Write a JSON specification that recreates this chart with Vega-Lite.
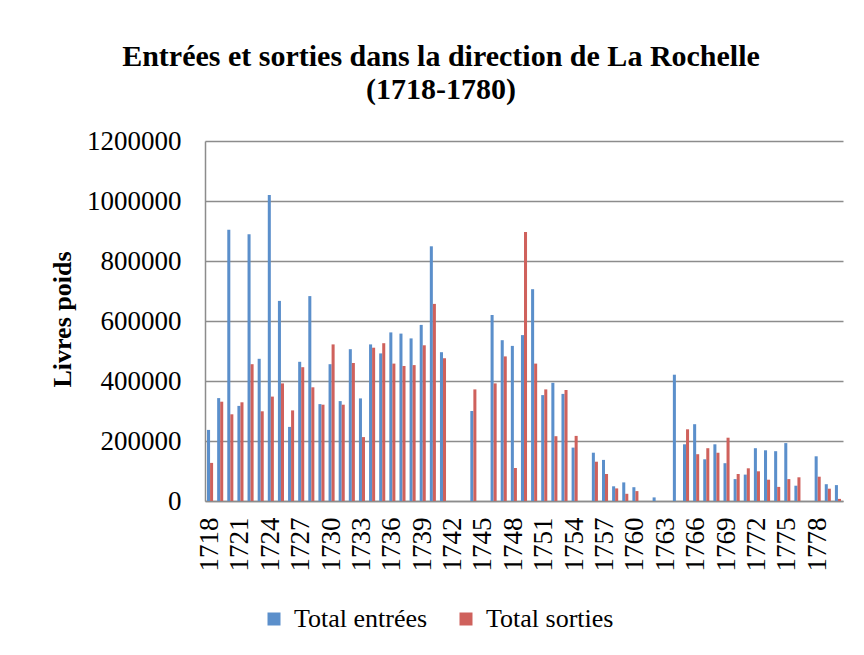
{
  "$schema": "https://vega.github.io/schema/vega-lite/v6.json",
  "width": 638,
  "height": 360,
  "autosize": {"type": "none"},
  "padding": {"left": 205, "top": 141, "right": 21, "bottom": 154},
  "background": "white",
  "title": {
    "text": ["Entrées et sorties dans la direction de La Rochelle", "(1718-1780)"],
    "font": "Liberation Serif",
    "fontSize": 30,
    "fontWeight": "bold",
    "color": "black",
    "anchor": "middle",
    "dx": -83,
    "offset": 22,
    "lineHeight": 33
  },
  "data": {
    "values": [
      {"annee": 1718, "serie": "Total entrées", "valeur": 237000},
      {"annee": 1718, "serie": "Total sorties", "valeur": 127000},
      {"annee": 1719, "serie": "Total entrées", "valeur": 343000},
      {"annee": 1719, "serie": "Total sorties", "valeur": 331000},
      {"annee": 1720, "serie": "Total entrées", "valeur": 904000},
      {"annee": 1720, "serie": "Total sorties", "valeur": 289000},
      {"annee": 1721, "serie": "Total entrées", "valeur": 317000},
      {"annee": 1721, "serie": "Total sorties", "valeur": 329000},
      {"annee": 1722, "serie": "Total entrées", "valeur": 889000},
      {"annee": 1722, "serie": "Total sorties", "valeur": 456000},
      {"annee": 1723, "serie": "Total entrées", "valeur": 474000},
      {"annee": 1723, "serie": "Total sorties", "valeur": 299000},
      {"annee": 1724, "serie": "Total entrées", "valeur": 1020000},
      {"annee": 1724, "serie": "Total sorties", "valeur": 348000},
      {"annee": 1725, "serie": "Total entrées", "valeur": 667000},
      {"annee": 1725, "serie": "Total sorties", "valeur": 392000},
      {"annee": 1726, "serie": "Total entrées", "valeur": 247000},
      {"annee": 1726, "serie": "Total sorties", "valeur": 302000},
      {"annee": 1727, "serie": "Total entrées", "valeur": 464000},
      {"annee": 1727, "serie": "Total sorties", "valeur": 446000},
      {"annee": 1728, "serie": "Total entrées", "valeur": 683000},
      {"annee": 1728, "serie": "Total sorties", "valeur": 379000},
      {"annee": 1729, "serie": "Total entrées", "valeur": 323000},
      {"annee": 1729, "serie": "Total sorties", "valeur": 321000},
      {"annee": 1730, "serie": "Total entrées", "valeur": 456000},
      {"annee": 1730, "serie": "Total sorties", "valeur": 522000},
      {"annee": 1731, "serie": "Total entrées", "valeur": 333000},
      {"annee": 1731, "serie": "Total sorties", "valeur": 321000},
      {"annee": 1732, "serie": "Total entrées", "valeur": 506000},
      {"annee": 1732, "serie": "Total sorties", "valeur": 460000},
      {"annee": 1733, "serie": "Total entrées", "valeur": 342000},
      {"annee": 1733, "serie": "Total sorties", "valeur": 213000},
      {"annee": 1734, "serie": "Total entrées", "valeur": 522000},
      {"annee": 1734, "serie": "Total sorties", "valeur": 511000},
      {"annee": 1735, "serie": "Total entrées", "valeur": 492000},
      {"annee": 1735, "serie": "Total sorties", "valeur": 526000},
      {"annee": 1736, "serie": "Total entrées", "valeur": 562000},
      {"annee": 1736, "serie": "Total sorties", "valeur": 458000},
      {"annee": 1737, "serie": "Total entrées", "valeur": 558000},
      {"annee": 1737, "serie": "Total sorties", "valeur": 450000},
      {"annee": 1738, "serie": "Total entrées", "valeur": 542000},
      {"annee": 1738, "serie": "Total sorties", "valeur": 453000},
      {"annee": 1739, "serie": "Total entrées", "valeur": 587000},
      {"annee": 1739, "serie": "Total sorties", "valeur": 519000},
      {"annee": 1740, "serie": "Total entrées", "valeur": 849000},
      {"annee": 1740, "serie": "Total sorties", "valeur": 657000},
      {"annee": 1741, "serie": "Total entrées", "valeur": 496000},
      {"annee": 1741, "serie": "Total sorties", "valeur": 476000},
      {"annee": 1744, "serie": "Total entrées", "valeur": 300000},
      {"annee": 1744, "serie": "Total sorties", "valeur": 372000},
      {"annee": 1746, "serie": "Total entrées", "valeur": 620000},
      {"annee": 1746, "serie": "Total sorties", "valeur": 392000},
      {"annee": 1747, "serie": "Total entrées", "valeur": 536000},
      {"annee": 1747, "serie": "Total sorties", "valeur": 482000},
      {"annee": 1748, "serie": "Total entrées", "valeur": 517000},
      {"annee": 1748, "serie": "Total sorties", "valeur": 110000},
      {"annee": 1749, "serie": "Total entrées", "valeur": 553000},
      {"annee": 1749, "serie": "Total sorties", "valeur": 897000},
      {"annee": 1750, "serie": "Total entrées", "valeur": 706000},
      {"annee": 1750, "serie": "Total sorties", "valeur": 458000},
      {"annee": 1751, "serie": "Total entrées", "valeur": 353000},
      {"annee": 1751, "serie": "Total sorties", "valeur": 372000},
      {"annee": 1752, "serie": "Total entrées", "valeur": 394000},
      {"annee": 1752, "serie": "Total sorties", "valeur": 216000},
      {"annee": 1753, "serie": "Total entrées", "valeur": 357000},
      {"annee": 1753, "serie": "Total sorties", "valeur": 370000},
      {"annee": 1754, "serie": "Total entrées", "valeur": 178000},
      {"annee": 1754, "serie": "Total sorties", "valeur": 217000},
      {"annee": 1756, "serie": "Total entrées", "valeur": 161000},
      {"annee": 1756, "serie": "Total sorties", "valeur": 131000},
      {"annee": 1757, "serie": "Total entrées", "valeur": 137000},
      {"annee": 1757, "serie": "Total sorties", "valeur": 90000},
      {"annee": 1758, "serie": "Total entrées", "valeur": 49000},
      {"annee": 1758, "serie": "Total sorties", "valeur": 42000},
      {"annee": 1759, "serie": "Total entrées", "valeur": 62000},
      {"annee": 1759, "serie": "Total sorties", "valeur": 24000},
      {"annee": 1760, "serie": "Total entrées", "valeur": 46000},
      {"annee": 1760, "serie": "Total sorties", "valeur": 33000},
      {"annee": 1762, "serie": "Total entrées", "valeur": 12000},
      {"annee": 1764, "serie": "Total entrées", "valeur": 421000},
      {"annee": 1765, "serie": "Total entrées", "valeur": 189000},
      {"annee": 1765, "serie": "Total sorties", "valeur": 239000},
      {"annee": 1766, "serie": "Total entrées", "valeur": 256000},
      {"annee": 1766, "serie": "Total sorties", "valeur": 156000},
      {"annee": 1767, "serie": "Total entrées", "valeur": 139000},
      {"annee": 1767, "serie": "Total sorties", "valeur": 176000},
      {"annee": 1768, "serie": "Total entrées", "valeur": 189000},
      {"annee": 1768, "serie": "Total sorties", "valeur": 161000},
      {"annee": 1769, "serie": "Total entrées", "valeur": 126000},
      {"annee": 1769, "serie": "Total sorties", "valeur": 211000},
      {"annee": 1770, "serie": "Total entrées", "valeur": 73000},
      {"annee": 1770, "serie": "Total sorties", "valeur": 90000},
      {"annee": 1771, "serie": "Total entrées", "valeur": 88000},
      {"annee": 1771, "serie": "Total sorties", "valeur": 109000},
      {"annee": 1772, "serie": "Total entrées", "valeur": 176000},
      {"annee": 1772, "serie": "Total sorties", "valeur": 99000},
      {"annee": 1773, "serie": "Total entrées", "valeur": 169000},
      {"annee": 1773, "serie": "Total sorties", "valeur": 71000},
      {"annee": 1774, "serie": "Total entrées", "valeur": 166000},
      {"annee": 1774, "serie": "Total sorties", "valeur": 47000},
      {"annee": 1775, "serie": "Total entrées", "valeur": 193000},
      {"annee": 1775, "serie": "Total sorties", "valeur": 73000},
      {"annee": 1776, "serie": "Total entrées", "valeur": 51000},
      {"annee": 1776, "serie": "Total sorties", "valeur": 79000},
      {"annee": 1778, "serie": "Total entrées", "valeur": 149000},
      {"annee": 1778, "serie": "Total sorties", "valeur": 81000},
      {"annee": 1779, "serie": "Total entrées", "valeur": 56000},
      {"annee": 1779, "serie": "Total sorties", "valeur": 41000},
      {"annee": 1780, "serie": "Total entrées", "valeur": 53000},
      {"annee": 1780, "serie": "Total sorties", "valeur": 7000}
    ]
  },
  "mark": {"type": "bar"},
  "encoding": {
    "x": {
      "field": "annee",
      "type": "ordinal",
      "title": null,
      "scale": {
        "domain": [1718,1719,1720,1721,1722,1723,1724,1725,1726,1727,1728,1729,1730,1731,1732,1733,1734,1735,1736,1737,1738,1739,1740,1741,1742,1743,1744,1745,1746,1747,1748,1749,1750,1751,1752,1753,1754,1755,1756,1757,1758,1759,1760,1761,1762,1763,1764,1765,1766,1767,1768,1769,1770,1771,1772,1773,1774,1775,1776,1777,1778,1779,1780],
        "paddingInner": 0.4,
        "paddingOuter": 0.2
      },
      "axis": {
        "values": [1718,1721,1724,1727,1730,1733,1736,1739,1742,1745,1748,1751,1754,1757,1760,1763,1766,1769,1772,1775,1778],
        "labelAngle": -90,
        "labelFont": "Liberation Serif",
        "labelFontSize": 27,
        "labelColor": "black",
        "labelPadding": 16,
        "ticks": false,
        "grid": false,
        "domainColor": "#8c8c8c",
        "domainWidth": 1.5
      }
    },
    "xOffset": {"field": "serie", "type": "nominal", "sort": ["Total entrées", "Total sorties"]},
    "y": {
      "field": "valeur",
      "type": "quantitative",
      "title": "Livres poids",
      "scale": {"domain": [0, 1200000], "nice": false},
      "axis": {
        "values": [0, 200000, 400000, 600000, 800000, 1000000, 1200000],
        "format": "d",
        "labelFont": "Liberation Serif",
        "labelFontSize": 27,
        "labelColor": "black",
        "labelPadding": 24,
        "ticks": false,
        "grid": true,
        "gridColor": "#8c8c8c",
        "gridWidth": 1.5,
        "domainColor": "#8c8c8c",
        "domainWidth": 1.5,
        "titleFont": "Liberation Serif",
        "titleFontSize": 26,
        "titleFontWeight": "bold",
        "titleColor": "black",
        "titleX": -143,
        "titleY": 178,
        "titleAngle": -90,
        "titleAlign": "center",
        "titleBaseline": "middle"
      }
    },
    "color": {
      "field": "serie",
      "type": "nominal",
      "scale": {"domain": ["Total entrées", "Total sorties"], "range": ["#5B8FCB", "#CF615C"]},
      "legend": {
        "title": null,
        "orient": "none",
        "legendX": 56,
        "legendY": 465,
        "direction": "horizontal",
        "symbolType": "square",
        "symbolSize": 169,
        "symbolStrokeWidth": 0,
        "labelFont": "Liberation Serif",
        "labelFontSize": 26,
        "labelColor": "black",
        "labelOffset": 7,
        "labelLimit": 300,
        "columnPadding": 25
      }
    }
  },
  "config": {
    "view": {"stroke": null},
    "legend": {"labelFont": "Liberation Serif", "labelFontSize": 26, "labelColor": "black"}
  }
}
